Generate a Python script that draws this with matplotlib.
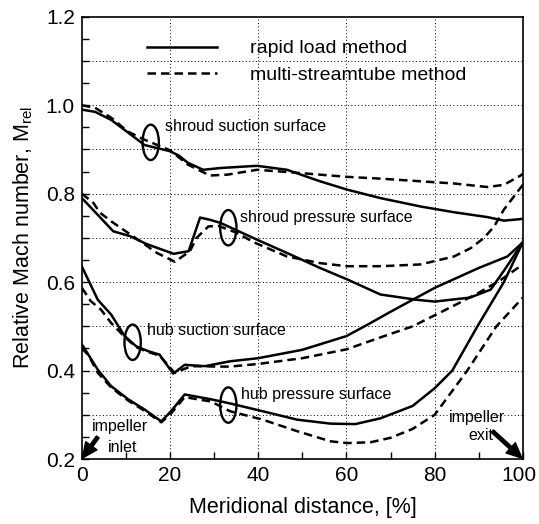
import matplotlib
matplotlib.use("Agg")
import matplotlib.pyplot as plt
from matplotlib.patches import Ellipse
from matplotlib.ticker import MultipleLocator
from matplotlib.transforms import ScaledTranslation

plt.rcParams['font.family'] = ['Liberation Sans', 'DejaVu Sans']

# shroud suction surface
ss_x_rl = [0, 3, 6.6, 10.5, 14.2, 20, 22, 24, 27.5, 31.4, 39.7, 46.5, 54, 60.2, 67.7, 76.8, 84.4, 92, 95.7, 100]
ss_y_rl = [0.99, 0.985, 0.967, 0.938, 0.91, 0.896, 0.886, 0.87, 0.854, 0.858, 0.863, 0.854, 0.828, 0.809, 0.79, 0.771, 0.758, 0.747, 0.739, 0.743]
ss_x_ms = [0, 3, 6.6, 10.5, 14.2, 17.6, 20, 24, 29, 33, 39.7, 46.5, 54, 60.2, 67.7, 76.8, 84.4, 92, 95.7, 99.5, 100]
ss_y_ms = [1.0, 0.994, 0.972, 0.94, 0.922, 0.908, 0.898, 0.866, 0.841, 0.843, 0.854, 0.849, 0.843, 0.838, 0.834, 0.828, 0.823, 0.815, 0.82, 0.841, 0.845]

# shroud pressure surface
sp_x_rl = [0, 7.1, 10.9, 14.7, 20.8, 24.2, 26.8, 29, 31.4, 39.7, 46.5, 54, 60.2, 67.7, 76, 80, 88, 92.7, 96, 100]
sp_y_rl = [0.79, 0.715, 0.704, 0.686, 0.664, 0.67, 0.746, 0.741, 0.734, 0.696, 0.666, 0.632, 0.606, 0.572, 0.56, 0.556, 0.565, 0.583, 0.63, 0.69]
sp_x_ms = [0, 2.6, 4.1, 6.7, 8.6, 13, 17, 21.1, 24.5, 26, 28.7, 31, 35, 39, 46.5, 54, 60, 68, 76.8, 84.4, 88.2, 91.2, 93.5, 95.7, 98, 100]
sp_y_ms = [0.80, 0.779, 0.757, 0.737, 0.724, 0.694, 0.666, 0.646, 0.67, 0.70, 0.726, 0.727, 0.712, 0.69, 0.658, 0.643, 0.636, 0.636, 0.64, 0.658, 0.677, 0.70, 0.726, 0.764, 0.794, 0.82]

# hub suction surface
hs_x_rl = [0, 3.6, 6.6, 9.7, 12.3, 15, 17.6, 20.7, 23.3, 27.9, 33.6, 40, 50, 60, 65, 70, 80, 90, 96.5, 100]
hs_y_rl = [0.635, 0.56, 0.527, 0.478, 0.455, 0.444, 0.436, 0.393, 0.413, 0.41, 0.421, 0.428, 0.447, 0.478, 0.505, 0.533, 0.587, 0.632, 0.658, 0.69]
hs_x_ms = [0, 2, 4.3, 6.6, 9.7, 12.3, 15, 17.6, 21, 24.8, 31, 33.6, 40, 50, 60, 67.7, 75, 80, 85, 90, 95, 100]
hs_y_ms = [0.587, 0.557, 0.538, 0.508, 0.476, 0.453, 0.442, 0.434, 0.395, 0.41, 0.409, 0.409, 0.415, 0.428, 0.448, 0.475, 0.5, 0.525, 0.55, 0.576, 0.605, 0.64]

# hub pressure surface
hp_x_rl = [0, 3.6, 6.6, 10.5, 14.2, 18, 20.2, 23.3, 29.3, 33.9, 41, 48.8, 56.4, 62, 67.7, 75, 80, 84, 89.7, 95.7, 100]
hp_y_rl = [0.459, 0.402, 0.365, 0.335, 0.312, 0.285, 0.308, 0.346, 0.335, 0.325, 0.308, 0.289, 0.28, 0.279, 0.292, 0.32, 0.36, 0.40, 0.50, 0.60, 0.69]
hp_x_ms = [0, 1.4, 3.6, 6.6, 10.5, 14.2, 18, 20.2, 23.3, 29.3, 33.6, 41, 48.8, 56.4, 60.2, 65.5, 70, 75, 80, 87.4, 94, 100]
hp_y_ms = [0.45, 0.436, 0.395, 0.362, 0.332, 0.309, 0.283, 0.303, 0.34, 0.33, 0.308, 0.289, 0.263, 0.24, 0.236, 0.238, 0.248, 0.268, 0.30, 0.40, 0.50, 0.565]

curves_rl = [(ss_x_rl, ss_y_rl), (sp_x_rl, sp_y_rl), (hs_x_rl, hs_y_rl), (hp_x_rl, hp_y_rl)]
curves_ms = [(ss_x_ms, ss_y_ms), (sp_x_ms, sp_y_ms), (hs_x_ms, hs_y_ms), (hp_x_ms, hp_y_ms)]

surface_labels = ["shroud suction surface", "shroud pressure surface", "hub suction surface", "hub pressure surface"]
label_pos = [(18.9, 0.952), (35.9, 0.745), (14.7, 0.49), (36.1, 0.346)]
ellipse_pos = [(15.6, 0.916), (33.2, 0.723), (11.5, 0.464), (33.2, 0.322)]

x_ticks = [0, 20, 40, 60, 80, 100]

fig = plt.figure(figsize=(5.39, 5.24), dpi=100)
ax = fig.add_axes([0.152, 0.124, 0.818, 0.844])

# grid
for gx in [20, 40, 60, 80]:
    ax.axvline(gx, color='black', lw=0.7, ls=(0, (1, 2.5)), zorder=0)
for gy in [0.3, 0.4, 0.5, 0.6, 0.7, 0.8, 0.9, 1.0, 1.1]:
    ax.axhline(gy, color='black', lw=0.7, ls=(0, (1, 2.5)), zorder=0)

for i, (x, y) in enumerate(curves_rl):
    ax.plot(x, y, color='black', lw=1.8, solid_joinstyle='round',
            label="rapid load method" if i == 0 else None)
for i, (x, y) in enumerate(curves_ms):
    ax.plot(x, y, color='black', lw=1.8, ls=(0, (3.4, 2.0)),
            label="multi-streamtube method" if i == 0 else None)

for (ex, ey), (tx, ty), txt in zip(ellipse_pos, label_pos, surface_labels):
    ax.add_patch(Ellipse((ex, ey), 3.7, 0.08, fill=False, color='black', lw=1.7))
    ax.text(tx, ty, txt, fontsize=11.5, va='center', ha='left')

# impeller inlet / exit
ax.text(8.6, 0.274, "impeller", fontsize=11.5, ha='center', va='center')
ax.text(9.2, 0.227, "inlet", fontsize=11.5, ha='center', va='center')
ax.annotate("", xy=(0.1, 0.202), xytext=(3.6, 0.25),
            arrowprops=dict(facecolor='black', edgecolor='black', width=2.4, headwidth=10, headlength=11, shrink=0))
ax.text(89.5, 0.295, "impeller", fontsize=11.5, ha='center', va='center')
ax.text(90.5, 0.253, "exit", fontsize=11.5, ha='center', va='center')
ax.annotate("", xy=(99.8, 0.202), xytext=(93.1, 0.263),
            arrowprops=dict(facecolor='black', edgecolor='black', width=2.4, headwidth=10, headlength=11, shrink=0))

ax.set_xlim(0, 100)
ax.set_ylim(0.2, 1.2)
ax.set_xticks(x_ticks)
ax.xaxis.set_minor_locator(MultipleLocator(10))
ax.yaxis.set_major_locator(MultipleLocator(0.2))
ax.yaxis.set_minor_locator(MultipleLocator(0.05))
ax.yaxis.set_major_formatter(matplotlib.ticker.FormatStrFormatter('%.1f'))
ax.tick_params(which='both', direction='in', top=False, right=False, width=1.0)
ax.tick_params(which='major', length=5, labelsize=15, pad=5)
ax.tick_params(which='minor', length=5)
for s in ax.spines.values():
    s.set_linewidth(1.2)

# nudge the "100" label so it stays inside the figure
last = ax.xaxis.get_major_ticks()[-1].label1
last.set_transform(last.get_transform() + ScaledTranslation(-2.5 / 72, 0, fig.dpi_scale_trans))

ax.set_xlabel("Meridional distance, [%]", fontsize=15.5, labelpad=9)
ax.set_ylabel(r"Relative Mach number, M$_{\mathregular{rel}}$", fontsize=15.5, labelpad=8)

ax.legend(loc='upper left', bbox_to_anchor=(0.147, 0.948), frameon=False, fontsize=14,
          handlelength=3.6, handletextpad=1.7, labelspacing=0.45, borderpad=0, borderaxespad=0)

fig.savefig("out.png", dpi=100)
